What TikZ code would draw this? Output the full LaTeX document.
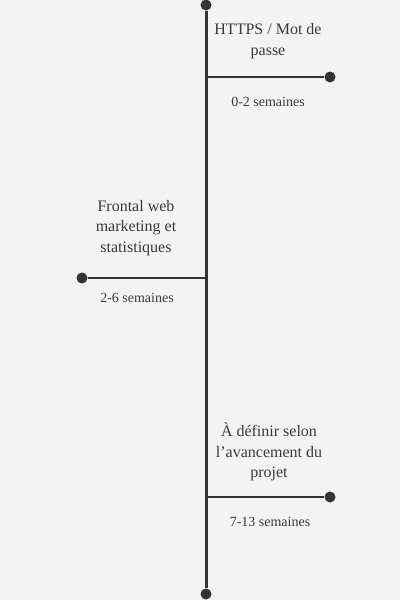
\documentclass[tikz,border=0pt]{standalone}
\usepackage{fontspec}
\setmainfont{Liberation Serif}
\usepackage{xcolor}
\definecolor{paper}{HTML}{F4F4F4}
\definecolor{ink}{HTML}{333338}
\definecolor{script}{HTML}{3A3A3A}

\begin{document}
\begin{tikzpicture}[x=1pt,y=-1pt]
		\tikzset{dot/.style = {circle,fill = ink,inner sep = 0pt,minimum size = 11pt},
			stage/.style = {align = center,text = script,font = \fontsize{16}{20.5}\selectfont},
			span/.style = {text = script,font = \fontsize{14}{16}\selectfont},
			spine/.style = {line width = 3pt,ink},
			branch/.style = {line width = 2.4pt,ink}}
		\fill[paper] (0,0) rectangle (400,600);
		\useasboundingbox (0,0) rectangle (400,600);
		\node[dot] (T) at (206,5){};
		\node[dot] (B) at (206,594){};
		\coordinate (S1) at (206,77);
		\coordinate (S2) at (206,278);
		\coordinate (S3) at (206,497);
		\node[dot] (D1) at (330,77){};
		\node[dot] (D2) at (82,278){};
		\node[dot] (D3) at (330,497){};
		\draw[spine] (T) -- (B);
		\draw[branch] (S1) -- (D1);
		\draw[branch] (S2) -- (D2);
		\draw[branch] (S3) -- (D3);
		\node[stage] (L1) at (268,41){HTTPS / Mot de\\passe};
		\node[span] (W1) at (268,102){0-2 semaines};
		\node[stage] (L2) at (136,228){Frontal web\\marketing et\\statistiques};
		\node[span] (W2) at (137,298){2-6 semaines};
		\node[stage] (L3) at (269,452){À définir selon\\l’avancement du\\projet};
		\node[span] (W3) at (270,522){7-13 semaines};
	\end{tikzpicture}
\end{document}
